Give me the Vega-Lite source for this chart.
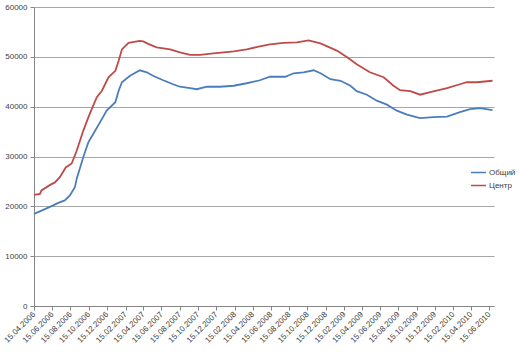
{
  "$schema": "https://vega.github.io/schema/vega-lite/v6.json",
  "width": 460,
  "height": 299,
  "autosize": {"type": "none"},
  "padding": {"left": 34, "top": 7, "right": 26, "bottom": 51},
  "background": "white",
  "config": {
    "view": {"stroke": null},
    "font": "Liberation Sans",
    "axis": {"labelFont": "Liberation Sans", "labelFontSize": 8, "labelColor": "#404040"}
  },
  "data": {
    "values": [
      {"date": "2006-04-15", "series": "Центр", "value": 22300},
      {"date": "2006-05-05", "series": "Центр", "value": 22500},
      {"date": "2006-05-10", "series": "Центр", "value": 23200},
      {"date": "2006-06-08", "series": "Центр", "value": 24300},
      {"date": "2006-06-24", "series": "Центр", "value": 24800},
      {"date": "2006-07-11", "series": "Центр", "value": 25900},
      {"date": "2006-07-30", "series": "Центр", "value": 27800},
      {"date": "2006-08-19", "series": "Центр", "value": 28600},
      {"date": "2006-09-05", "series": "Центр", "value": 31200},
      {"date": "2006-09-27", "series": "Центр", "value": 35200},
      {"date": "2006-10-14", "series": "Центр", "value": 37900},
      {"date": "2006-10-30", "series": "Центр", "value": 40200},
      {"date": "2006-11-11", "series": "Центр", "value": 41900},
      {"date": "2006-11-28", "series": "Центр", "value": 43200},
      {"date": "2006-12-20", "series": "Центр", "value": 45900},
      {"date": "2007-01-12", "series": "Центр", "value": 47200},
      {"date": "2007-01-23", "series": "Центр", "value": 49200},
      {"date": "2007-02-03", "series": "Центр", "value": 51500},
      {"date": "2007-02-25", "series": "Центр", "value": 52800},
      {"date": "2007-04-04", "series": "Центр", "value": 53200},
      {"date": "2007-04-15", "series": "Центр", "value": 53100},
      {"date": "2007-05-02", "series": "Центр", "value": 52600},
      {"date": "2007-05-30", "series": "Центр", "value": 51900},
      {"date": "2007-07-14", "series": "Центр", "value": 51500},
      {"date": "2007-08-16", "series": "Центр", "value": 50900},
      {"date": "2007-09-19", "series": "Центр", "value": 50400},
      {"date": "2007-10-22", "series": "Центр", "value": 50400},
      {"date": "2007-12-06", "series": "Центр", "value": 50700},
      {"date": "2008-02-12", "series": "Центр", "value": 51100},
      {"date": "2008-03-26", "series": "Центр", "value": 51500},
      {"date": "2008-05-09", "series": "Центр", "value": 52100},
      {"date": "2008-06-12", "series": "Центр", "value": 52500},
      {"date": "2008-07-27", "series": "Центр", "value": 52800},
      {"date": "2008-09-10", "series": "Центр", "value": 52900},
      {"date": "2008-10-19", "series": "Центр", "value": 53300},
      {"date": "2008-11-28", "series": "Центр", "value": 52700},
      {"date": "2009-01-23", "series": "Центр", "value": 51200},
      {"date": "2009-02-25", "series": "Центр", "value": 49900},
      {"date": "2009-03-29", "series": "Центр", "value": 48500},
      {"date": "2009-05-12", "series": "Центр", "value": 46900},
      {"date": "2009-06-27", "series": "Центр", "value": 45900},
      {"date": "2009-07-30", "series": "Центр", "value": 44200},
      {"date": "2009-08-21", "series": "Центр", "value": 43300},
      {"date": "2009-09-24", "series": "Центр", "value": 43100},
      {"date": "2009-10-27", "series": "Центр", "value": 42400},
      {"date": "2009-11-30", "series": "Центр", "value": 42900},
      {"date": "2010-01-25", "series": "Центр", "value": 43700},
      {"date": "2010-03-09", "series": "Центр", "value": 44500},
      {"date": "2010-04-01", "series": "Центр", "value": 44900},
      {"date": "2010-05-05", "series": "Центр", "value": 44900},
      {"date": "2010-06-26", "series": "Центр", "value": 45200},
      {"date": "2006-04-15", "series": "Общий", "value": 18500},
      {"date": "2006-05-16", "series": "Общий", "value": 19300},
      {"date": "2006-06-18", "series": "Общий", "value": 20200},
      {"date": "2006-07-05", "series": "Общий", "value": 20700},
      {"date": "2006-07-27", "series": "Общий", "value": 21200},
      {"date": "2006-08-13", "series": "Общий", "value": 22200},
      {"date": "2006-08-30", "series": "Общий", "value": 23900},
      {"date": "2006-09-05", "series": "Общий", "value": 25600},
      {"date": "2006-09-27", "series": "Общий", "value": 29900},
      {"date": "2006-10-14", "series": "Общий", "value": 32900},
      {"date": "2006-10-30", "series": "Общий", "value": 34500},
      {"date": "2006-11-22", "series": "Общий", "value": 36900},
      {"date": "2006-12-14", "series": "Общий", "value": 39200},
      {"date": "2007-01-12", "series": "Общий", "value": 40900},
      {"date": "2007-01-23", "series": "Общий", "value": 43200},
      {"date": "2007-02-03", "series": "Общий", "value": 44900},
      {"date": "2007-03-02", "series": "Общий", "value": 46200},
      {"date": "2007-04-04", "series": "Общий", "value": 47300},
      {"date": "2007-04-27", "series": "Общий", "value": 46900},
      {"date": "2007-05-18", "series": "Общий", "value": 46200},
      {"date": "2007-06-21", "series": "Общий", "value": 45300},
      {"date": "2007-07-24", "series": "Общий", "value": 44500},
      {"date": "2007-08-16", "series": "Общий", "value": 44000},
      {"date": "2007-09-19", "series": "Общий", "value": 43700},
      {"date": "2007-10-11", "series": "Общий", "value": 43500},
      {"date": "2007-11-14", "series": "Общий", "value": 44000},
      {"date": "2007-12-27", "series": "Общий", "value": 44000},
      {"date": "2008-02-12", "series": "Общий", "value": 44200},
      {"date": "2008-03-26", "series": "Общий", "value": 44700},
      {"date": "2008-05-09", "series": "Общий", "value": 45300},
      {"date": "2008-06-12", "series": "Общий", "value": 46000},
      {"date": "2008-08-02", "series": "Общий", "value": 46000},
      {"date": "2008-08-30", "series": "Общий", "value": 46700},
      {"date": "2008-10-02", "series": "Общий", "value": 46900},
      {"date": "2008-11-05", "series": "Общий", "value": 47300},
      {"date": "2008-11-28", "series": "Общий", "value": 46700},
      {"date": "2008-12-31", "series": "Общий", "value": 45500},
      {"date": "2009-02-03", "series": "Общий", "value": 45200},
      {"date": "2009-03-08", "series": "Общий", "value": 44200},
      {"date": "2009-03-29", "series": "Общий", "value": 43100},
      {"date": "2009-05-02", "series": "Общий", "value": 42400},
      {"date": "2009-06-04", "series": "Общий", "value": 41200},
      {"date": "2009-07-08", "series": "Общий", "value": 40400},
      {"date": "2009-08-10", "series": "Общий", "value": 39200},
      {"date": "2009-09-13", "series": "Общий", "value": 38400},
      {"date": "2009-10-27", "series": "Общий", "value": 37700},
      {"date": "2009-12-11", "series": "Общий", "value": 37900},
      {"date": "2010-01-25", "series": "Общий", "value": 38000},
      {"date": "2010-03-09", "series": "Общий", "value": 38900},
      {"date": "2010-04-12", "series": "Общий", "value": 39500},
      {"date": "2010-05-15", "series": "Общий", "value": 39700},
      {"date": "2010-06-26", "series": "Общий", "value": 39300}
    ]
  },
  "mark": {"type": "line", "strokeWidth": 1.8},
  "encoding": {
    "x": {
      "field": "date",
      "type": "temporal",
      "scale": {
        "type": "utc",
        "domain": [
          {"year": 2006, "month": 4, "date": 15, "utc": true},
          {"year": 2010, "month": 7, "date": 1, "utc": true}
        ]
      },
      "axis": {
        "title": null,
        "values": [
          {"year": 2006, "month": 4, "date": 15, "utc": true},
          {"year": 2006, "month": 6, "date": 15, "utc": true},
          {"year": 2006, "month": 8, "date": 15, "utc": true},
          {"year": 2006, "month": 10, "date": 15, "utc": true},
          {"year": 2006, "month": 12, "date": 15, "utc": true},
          {"year": 2007, "month": 2, "date": 15, "utc": true},
          {"year": 2007, "month": 4, "date": 15, "utc": true},
          {"year": 2007, "month": 6, "date": 15, "utc": true},
          {"year": 2007, "month": 8, "date": 15, "utc": true},
          {"year": 2007, "month": 10, "date": 15, "utc": true},
          {"year": 2007, "month": 12, "date": 15, "utc": true},
          {"year": 2008, "month": 2, "date": 15, "utc": true},
          {"year": 2008, "month": 4, "date": 15, "utc": true},
          {"year": 2008, "month": 6, "date": 15, "utc": true},
          {"year": 2008, "month": 8, "date": 15, "utc": true},
          {"year": 2008, "month": 10, "date": 15, "utc": true},
          {"year": 2008, "month": 12, "date": 15, "utc": true},
          {"year": 2009, "month": 2, "date": 15, "utc": true},
          {"year": 2009, "month": 4, "date": 15, "utc": true},
          {"year": 2009, "month": 6, "date": 15, "utc": true},
          {"year": 2009, "month": 8, "date": 15, "utc": true},
          {"year": 2009, "month": 10, "date": 15, "utc": true},
          {"year": 2009, "month": 12, "date": 15, "utc": true},
          {"year": 2010, "month": 2, "date": 15, "utc": true},
          {"year": 2010, "month": 4, "date": 15, "utc": true},
          {"year": 2010, "month": 6, "date": 15, "utc": true}
        ],
        "format": "%d.%m.%Y",
        "labelAngle": -45,
        "labelAlign": "right",
        "labelBaseline": "middle",
        "labelPadding": 3,
        "labelOverlap": false,
        "labelFlush": false,
        "grid": false,
        "tickSize": 4,
        "tickColor": "#868686",
        "domainColor": "#868686"
      }
    },
    "y": {
      "field": "value",
      "type": "quantitative",
      "scale": {"domain": [0, 60000], "nice": false},
      "axis": {
        "title": null,
        "values": [0, 10000, 20000, 30000, 40000, 50000, 60000],
        "format": "d",
        "grid": true,
        "gridColor": "#a6a6a6",
        "gridWidth": 1,
        "tickSize": 4,
        "tickColor": "#868686",
        "domainColor": "#868686",
        "labelPadding": 3,
        "labelFlush": false
      }
    },
    "color": {
      "field": "series",
      "type": "nominal",
      "scale": {"domain": ["Общий", "Центр"], "range": ["#4a7ebb", "#be4b48"]},
      "legend": {
        "title": null,
        "orient": "none",
        "legendX": 436,
        "legendY": 157,
        "symbolType": "stroke",
        "symbolStrokeWidth": 1.5,
        "symbolSize": 225,
        "labelFontSize": 8,
        "labelColor": "#404040",
        "labelOffset": 2,
        "rowPadding": 0,
        "padding": 0
      }
    }
  }
}
